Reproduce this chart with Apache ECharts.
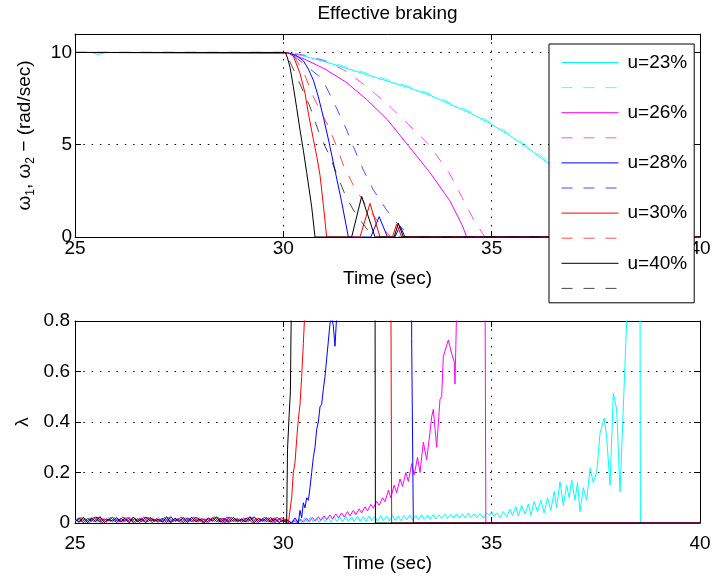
<!DOCTYPE html>
<html><head><meta charset="utf-8">
<script src="https://cdn.jsdelivr.net/npm/echarts@6/dist/echarts.min.js"></script>
<style>html,body{margin:0;padding:0;background:#fff}#c{width:714px;height:581px}</style>
</head><body><div id="c"></div>
<script>
// ---------- tick labels ----------
const xTicks = [25, 30, 35, 40];
const yTicksTop = [0, 5, 10];
const yTicksBottom = [0, 0.2, 0.4, 0.6, 0.8];
const legendNames = ['u=23%', 'u=26%', 'u=28%', 'u=30%', 'u=40%'];

// ---------- top plot: omega1 (solid) / omega2 (dashed) ----------
const w1T_23 = [25, 25.4, 25.55, 25.75, 30.1, 30.5, 31, 31.5, 32, 32.5, 33, 33.5, 34, 34.5, 35, 35.5, 36, 36.5, 37, 37.5, 38, 38.4, 38.56, 40];
const w1V_23 = [10, 10, 9.9, 10, 9.98, 9.8, 9.5, 9.15, 8.8, 8.45, 8.1, 7.7, 7.2, 6.7, 6.1, 5.4, 4.6, 3.75, 2.9, 2.0, 1.05, 0.3, 0, 0];
const w2T_23 = [25, 25.4, 25.55, 25.75, 30.1, 30.5, 31, 31.5, 32, 32.5, 33, 33.5, 34, 34.5, 35, 35.5, 36, 36.5, 37, 37.5, 38, 38.4, 38.56, 40];
const w2V_23 = [10, 10, 10, 10, 10, 9.86, 9.57, 9.22, 8.88, 8.53, 8.17, 7.78, 7.28, 6.78, 6.19, 5.5, 4.7, 3.85, 3.0, 2.1, 1.15, 0.38, 0, 0];

const w1T_26 = [25, 30.1, 30.5, 31, 31.5, 32, 32.5, 33, 33.5, 34, 34.3, 34.4, 40];
const w1V_26 = [10, 9.97, 9.65, 9.1, 8.4, 7.45, 6.35, 4.95, 3.55, 1.95, 0.6, 0, 0];
const w2T_26 = [25, 30.1, 30.5, 31, 31.5, 32, 32.5, 33, 33.5, 34, 34.3, 34.6, 34.84, 40];
const w2V_26 = [10, 10, 9.85, 9.55, 9.0, 8.15, 7.2, 6.1, 5.0, 3.4, 2.1, 0.8, 0, 0];

const w1T_28 = [25, 30.1, 30.3, 30.48, 30.6, 30.72, 30.84, 30.96, 31.1, 31.25, 31.4, 31.56, 32.1, 32.3, 32.5, 32.68, 32.8, 32.92, 40];
const w1V_28 = [10, 9.98, 9.85, 9.55, 9.1, 8.5, 7.6, 6.5, 5.1, 3.5, 1.9, 0, 0, 1.1, 0, 0, 0.6, 0, 0];
const w2T_28 = [25, 30.15, 30.4, 30.72, 30.92, 31.08, 31.28, 31.52, 31.68, 31.92, 32.16, 32.48, 32.8, 33.12, 40];
const w2V_28 = [10, 10, 9.55, 8.96, 8.6, 7.9, 6.97, 5.8, 4.9, 3.63, 2.55, 1.46, 0.56, 0, 0];

const w1T_30 = [25, 30.12, 30.24, 30.4, 30.52, 30.6, 30.72, 30.8, 30.88, 30.96, 31.04, 31.84, 32.08, 32.32, 32.62, 32.72, 32.84, 40];
const w1V_30 = [10, 9.98, 9.8, 8.87, 7.79, 6.7, 5.3, 4.4, 3.35, 1.75, 0, 0, 1.82, 0, 0, 0.7, 0, 0];
const w2T_30 = [25, 30.15, 30.3, 30.52, 30.72, 30.9, 31.1, 31.28, 31.44, 31.68, 31.96, 32.2, 32.4, 32.58, 40];
const w2V_30 = [10, 10, 9.65, 8.75, 7.6, 6.8, 5.9, 4.9, 3.9, 2.8, 1.8, 1.05, 0.45, 0, 0];

const w1T_40 = [25, 30.05, 30.1, 30.16, 30.24, 30.32, 30.4, 30.48, 30.56, 30.68, 30.76, 31.64, 31.88, 32.2, 32.66, 32.76, 32.88, 40];
const w1V_40 = [10, 10, 9.7, 9.2, 8.15, 7.0, 5.8, 4.7, 3.5, 1.64, 0, 0, 2.2, 0, 0, 0.75, 0, 0];
const w2T_40 = [25, 30.05, 30.2, 30.36, 30.64, 30.88, 31.12, 31.32, 31.52, 31.75, 32.0, 32.12, 32.2, 40];
const w2V_40 = [10, 10, 9.3, 8.5, 7.06, 5.5, 4.35, 3.18, 2.1, 1.2, 0.45, 0.1, 0, 0];

// ---------- bottom plot: lambda ----------
const noiseTA = [25,25.1,25.2,25.3,25.4,25.5,25.6,25.7,25.8,25.9,
                 26,26.1,26.2,26.3,26.4,26.5,26.6,26.7,26.8,26.9,
                 27,27.1,27.2,27.3,27.4,27.5,27.6,27.7,27.8,27.9,
                 28,28.1,28.2,28.3,28.4,28.5,28.6,28.7,28.8,28.9,
                 29,29.1,29.2,29.3,29.4,29.5,29.6,29.7,29.8,29.9,
                 30];
const noiseTB = [25.05,25.15,25.25,25.35,25.45,25.55,25.65,25.75,25.85,25.95,
                 26.05,26.15,26.25,26.35,26.45,26.55,26.65,26.75,26.85,26.95,
                 27.05,27.15,27.25,27.35,27.45,27.55,27.65,27.75,27.85,27.95,
                 28.05,28.15,28.25,28.35,28.45,28.55,28.65,28.75,28.85,28.95,
                 29.05,29.15,29.25,29.35,29.45,29.55,29.65,29.75,29.85,29.95];
const nzCyan = [0.012,0.002,0.020,0.006,0.024,0.001,0.017,0.008,0.022,0.003,
                0.019,0.005,0.025,0.002,0.015,0.009,0.021,0.001,0.018,0.004,
                0.023,0.007,0.016,0.002,0.020,0.006,0.024,0.003,0.014,0.008,
                0.022,0.001,0.019,0.005,0.025,0.003,0.017,0.009,0.021,0.002,
                0.018,0.006,0.023,0.001,0.016,0.007,0.020,0.004,0.024,0.002,
                0.015];
const nzBlue = [0.004,0.021,0.001,0.018,0.007,0.025,0.003,0.016,0.009,0.023,
                0.002,0.019,0.006,0.022,0.001,0.017,0.005,0.024,0.008,0.015,
                0.003,0.020,0.002,0.025,0.006,0.018,0.001,0.021,0.004,0.023,
                0.007,0.016,0.002,0.022,0.005,0.019,0.001,0.024,0.006,0.017,
                0.003,0.020,0.008,0.025,0.002,0.018,0.005,0.022,0.001,0.019,
                0.006];
const nzBlack = [0.016,0.003,0.023,0.001,0.019,0.006,0.025,0.002,0.014,0.008,
                 0.021,0.004,0.018,0.001,0.024,0.005,0.017,0.002,0.022,0.007,
                 0.015,0.003,0.025,0.001,0.019,0.006,0.021,0.002,0.023,0.005,
                 0.016,0.001,0.020,0.008,0.024,0.003,0.018,0.002,0.022,0.006,
                 0.015,0.004,0.025,0.001,0.019,0.007,0.021,0.003,0.017,0.002,
                 0.012];
const nzMag = [0.021,0.004,0.017,0.001,0.024,0.007,0.019,0.002,0.023,0.005,
               0.016,0.003,0.022,0.008,0.018,0.001,0.025,0.004,0.020,0.006,
               0.015,0.002,0.023,0.005,0.017,0.001,0.021,0.007,0.024,0.003,
               0.019,0.002,0.016,0.006,0.022,0.001,0.025,0.004,0.018,0.008,
               0.020,0.003,0.023,0.002,0.017,0.005,0.021,0.001,0.024,0.006];
const nzRed = [0.008,0.022,0.002,0.019,0.005,0.024,0.001,0.017,0.006,0.021,
               0.003,0.025,0.007,0.016,0.002,0.020,0.004,0.023,0.001,0.018,
               0.006,0.022,0.003,0.015,0.008,0.024,0.002,0.019,0.005,0.021,
               0.001,0.017,0.007,0.025,0.003,0.020,0.002,0.023,0.006,0.016,
               0.004,0.022,0.001,0.018,0.005,0.024,0.003,0.019,0.007,0.021];

const lamT_23 = [30.1,30.16,30.24,30.3,30.38,30.44,30.52,30.58,30.66,30.72,
                 30.8,30.86,30.94,31.0,31.08,31.14,31.22,31.28,31.36,31.42,
                 31.5,31.56,31.64,31.7,31.78,31.84,31.92,31.98,32.06,32.12,
                 32.2,32.26,32.34,32.4,32.48,32.54,32.62,32.68,32.76,32.82,
                 32.9,32.96,33.04,33.1,33.18,33.24,33.32,33.38,33.46,33.52,
                 33.6,33.66,33.74,33.8,33.88,33.94,34.02,34.08,34.16,34.22,
                 34.3,34.36,34.44,34.5,34.58,34.64,34.72,34.8,34.88,34.94,
                 35.0,35.06,35.12,35.2,35.28,35.36,35.44,35.5,35.58,35.64,
                 35.72,35.8,35.88,35.94,36.02,36.1,36.18,36.26,36.34,36.42,
                 36.5,36.56,36.64,36.72,36.8,36.86,36.92,37.0,37.06,37.12,
                 37.2,37.28,37.36,37.44,37.52,37.6,37.7,37.76,37.84,37.92,
                 38.0,38.08,38.16,38.24,38.28,38.56,38.57,40];
const lamV_23 = [0.015,0.0,0.012,0.0,0.018,0.002,0.02,0.003,0.022,0.004,
                 0.02,0.002,0.024,0.005,0.022,0.003,0.025,0.006,0.023,0.004,
                 0.026,0.006,0.024,0.005,0.027,0.007,0.025,0.006,0.028,0.008,
                 0.026,0.007,0.029,0.009,0.027,0.008,0.03,0.01,0.028,0.009,
                 0.03,0.012,0.032,0.011,0.03,0.013,0.033,0.014,0.031,0.015,
                 0.034,0.016,0.032,0.017,0.035,0.018,0.034,0.019,0.036,0.02,
                 0.037,0.02,0.038,0.022,0.036,0.021,0.038,0.02,0.04,0.03,
                 0.045,0.025,0.04,0.022,0.045,0.025,0.055,0.03,0.065,0.028,
                 0.07,0.035,0.075,0.03,0.085,0.045,0.09,0.04,0.1,0.05,
                 0.125,0.06,0.164,0.07,0.15,0.1,0.17,0.09,0.16,0.045,
                 0.14,0.09,0.217,0.16,0.2,0.355,0.415,0.34,0.15,0.514,
                 0.45,0.124,0.46,0.8,1.0,1.0,0,0];

const lamT_26 = [30.1,30.2,30.28,30.34,30.42,30.48,30.56,30.62,30.7,30.76,
                 30.84,30.9,30.98,31.04,31.12,31.18,31.26,31.32,31.4,31.46,
                 31.54,31.6,31.68,31.74,31.82,31.88,31.96,32.02,32.1,32.16,
                 32.24,32.3,32.38,32.44,32.52,32.58,32.66,32.72,32.8,32.86,
                 32.94,33.0,33.08,33.14,33.22,33.28,33.36,33.44,33.52,33.56,
                 33.6,33.68,33.76,33.8,33.84,33.96,34.04,34.1,34.12,34.16,
                 34.2,34.84,34.86,40];
const lamV_26 = [0.012,0.0,0.01,0.0,0.015,0.003,0.018,0.005,0.022,0.008,
                 0.025,0.01,0.028,0.013,0.032,0.016,0.036,0.02,0.04,0.024,
                 0.045,0.028,0.05,0.033,0.056,0.04,0.064,0.048,0.074,0.058,
                 0.086,0.07,0.1,0.084,0.13,0.1,0.15,0.12,0.175,0.145,
                 0.2,0.165,0.235,0.19,0.26,0.2,0.32,0.25,0.36,0.42,
                 0.45,0.3,0.49,0.5,0.66,0.725,0.67,0.64,0.55,0.85,
                 1.0,1.0,0,0];

const lamT_28 = [30.1,30.2,30.28,30.36,30.4,30.44,30.48,30.52,30.56,30.6,
                 30.64,30.68,30.72,30.76,30.8,30.84,30.88,30.92,30.96,31.0,
                 31.04,31.08,31.12,31.16,31.2,31.24,31.28,31.32,33.08,33.08,
                 33.12,33.12,40];
const lamV_28 = [0.01,0.0,0.02,0.0,0.05,0.02,0.08,0.06,0.1,0.09,
                 0.14,0.2,0.26,0.3,0.37,0.4,0.46,0.47,0.53,0.58,
                 0.65,0.72,0.79,0.82,0.78,0.7,0.82,1.0,1.0,0.73,
                 0.73,0,0];

const lamT_30 = [30.1,30.12,30.2,30.24,30.28,30.32,30.36,30.4,30.44,30.48,30.52,30.56,32.58,32.6,40];
const lamV_30 = [0.01,0,0.1,0.2,0.24,0.33,0.41,0.47,0.58,0.71,0.85,1.0,1.0,0,0];

const lamT_40 = [30.04,30.08,30.1,30.14,30.17,30.2,32.2,32.21,40];
const lamV_40 = [0.01,0,0.29,0.43,0.52,1.0,1.0,0,0];

// ---------- build ----------
function pairs(t, v) {
  const out = [];
  const n = Math.min(t.length, v.length);
  for (let i = 0; i < n; i++) out.push([t[i], v[i]]);
  return out;
}
const FONT = 'Liberation Sans, Arial, Helvetica, sans-serif';
const colors = ['#00ffff', '#ff00ff', '#0000ff', '#ff0000', '#000000'];
const topSets = [
  [w1T_23, w1V_23, w2T_23, w2V_23],
  [w1T_26, w1V_26, w2T_26, w2V_26],
  [w1T_28, w1V_28, w2T_28, w2V_28],
  [w1T_30, w1V_30, w2T_30, w2V_30],
  [w1T_40, w1V_40, w2T_40, w2V_40]
];
const lamSets = [
  [noiseTA, nzCyan, lamT_23, lamV_23],
  [noiseTB, nzMag, lamT_26, lamV_26],
  [noiseTA, nzBlue, lamT_28, lamV_28],
  [noiseTB, nzRed, lamT_30, lamV_30],
  [noiseTA, nzBlack, lamT_40, lamV_40]
];
const DASH = [11, 11];
const series = [];
const legendData = [];
legendNames.forEach((nm, k) => {
  const s = topSets[k];
  series.push({
    name: nm, type: 'line', xAxisIndex: 0, yAxisIndex: 0,
    symbol: 'none', showSymbol: false, animation: false,
    itemStyle: { color: colors[k] },
    lineStyle: { color: colors[k], width: 1, type: 'solid' },
    data: pairs(s[0], s[1])
  });
  series.push({
    name: nm + ' ω2', type: 'line', xAxisIndex: 0, yAxisIndex: 0,
    symbol: 'none', showSymbol: false, animation: false,
    itemStyle: { color: colors[k] },
    lineStyle: { color: colors[k], width: 1, type: DASH, opacity: 0.7 },
    data: pairs(s[2], s[3])
  });
  legendData.push(nm, nm + ' ω2');
});
legendNames.forEach((nm, k) => {
  const s = lamSets[k];
  series.push({
    name: 'λ ' + nm, type: 'line', xAxisIndex: 2, yAxisIndex: 2,
    symbol: 'none', showSymbol: false, animation: false,
    itemStyle: { color: colors[k] },
    lineStyle: { color: colors[k], width: 1 },
    data: pairs(s[0], s[1]).concat(pairs(s[2], s[3]))
  });
});

const axisLine = { show: true, onZero: false, lineStyle: { color: '#000', width: 1 } };
const tick = { show: true, inside: true, length: 6, lineStyle: { color: '#000' } };
const grid = { show: true, lineStyle: { color: '#000', width: 1, type: [1.5, 6.8] } };
const lbl = { fontSize: 19, color: '#000', fontFamily: FONT };

function xMain(gi, margin, gap) {
  return {
    type: 'value', gridIndex: gi, min: 25, max: 40, interval: 5, position: 'bottom',
    axisLine, axisTick: tick, splitLine: grid,
    axisLabel: Object.assign({ margin, formatter: v => xTicks.includes(v) ? String(v) : '' }, lbl),
    name: 'Time (sec)', nameLocation: 'middle', nameGap: gap,
    nameTextStyle: lbl
  };
}
function xTop(gi) {
  return { type: 'value', gridIndex: gi, min: 25, max: 40, interval: 5, position: 'top',
    axisLine, axisTick: tick, splitLine: { show: false }, axisLabel: { show: false } };
}

const option = {
  backgroundColor: '#fff',
  animation: false,
  title: {
    text: 'Effective braking', left: 387.5, top: 4, textAlign: 'center', padding: 0,
    textStyle: { fontSize: 19, fontWeight: 'normal', color: '#000', fontFamily: FONT }
  },
  legend: {
    data: legendData, orient: 'vertical', left: 549, top: 44,
    itemWidth: 57, itemHeight: 16, itemGap: 9.2, padding: [9, 7, 8, 12],
    backgroundColor: '#fff', borderColor: '#000', borderWidth: 1, borderRadius: 0,
    selectedMode: false,
    itemStyle: { opacity: 0, borderWidth: 0 },
    lineStyle: { width: 1 },
    formatter: n => n.indexOf('ω2') >= 0 ? '' : n,
    textStyle: { fontSize: 19, lineHeight: 16, color: '#000', fontFamily: FONT, padding: [0, 0, 0, 4] }
  },
  grid: [
    { left: 75, right: 14, top: 34, height: 203, containLabel: false },
    { left: 75, right: 14, top: 321, height: 202, containLabel: false }
  ],
  xAxis: [xMain(0, 2, 32), xTop(0), xMain(1, 11, 31), xTop(1)],
  yAxis: [
    {
      type: 'value', gridIndex: 0, min: 0, max: 11, interval: 5, position: 'left',
      axisLine, axisTick: tick, splitLine: grid,
      axisLabel: Object.assign({ margin: 3, formatter: v => yTicksTop.includes(v) ? String(v) : '' }, lbl),
      name: '{a|ω}{s|1}{a|, ω}{s|2}{a| − (rad/sec)}', nameLocation: 'middle', nameGap: 38,
      nameTextStyle: {
        fontSize: 19, color: '#000', fontFamily: FONT,
        rich: {
          a: { fontSize: 19, lineHeight: 24, color: '#000', fontFamily: FONT },
          s: { fontSize: 12, lineHeight: 12, verticalAlign: 'bottom', color: '#000', fontFamily: FONT }
        }
      }
    },
    { type: 'value', gridIndex: 0, min: 0, max: 11, interval: 5, position: 'right',
      axisLine, axisTick: tick, splitLine: { show: false }, axisLabel: { show: false } },
    {
      type: 'value', gridIndex: 1, min: 0, max: 0.8, interval: 0.2, position: 'left',
      axisLine, axisTick: tick, splitLine: grid,
      axisLabel: Object.assign({ margin: 5, formatter: v => {
        const m = yTicksBottom.find(t => Math.abs(t - v) < 1e-9);
        return m === undefined ? '' : String(m);
      } }, lbl),
      name: 'λ', nameLocation: 'middle', nameGap: 40, nameTextStyle: lbl
    },
    { type: 'value', gridIndex: 1, min: 0, max: 0.8, interval: 0.2, position: 'right',
      axisLine, axisTick: tick, splitLine: { show: false }, axisLabel: { show: false } }
  ],
  series
};
const chart = echarts.init(document.getElementById('c'), null, { renderer: 'canvas' });
chart.setOption(option);
</script></body></html>
